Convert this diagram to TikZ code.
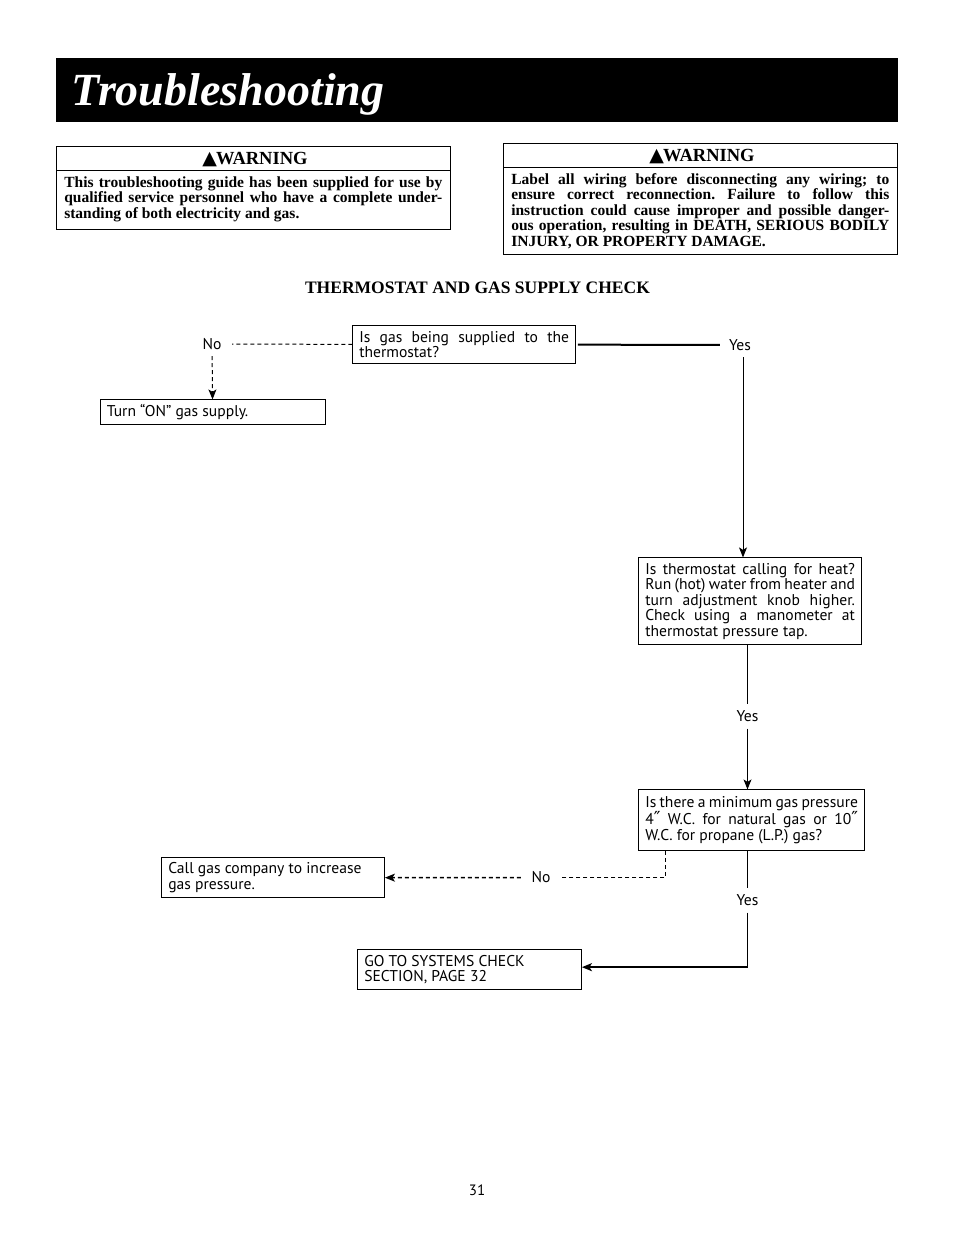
\documentclass[tikz,border=0pt]{standalone}
\usepackage{fontspec}
\setmainfont{PT Sans}
\newfontfamily\boldfont{Liberation Serif}
\newfontfamily\symfont{DejaVu Sans}
\usetikzlibrary{arrows.meta}
\newcommand{\warnhead}{{\symfont\fontsize{19}{19}\selectfont ▲}\kern-1pt WARNING}
\newcommand{\inch}{{\symfont\fontsize{18}{12}\selectfont ″}}
\frenchspacing
\tikzset{
	flowbox/.style={draw,line width=0.8pt,align=justify,inner xsep=6.5pt,inner ysep=0pt,font=\fontsize{15.6}{15.5}\selectfont},
	warnbox/.style={draw,line width=1pt,minimum width=393.7pt,inner sep=0pt},
	warnbody/.style={align=justify,text width=378pt,inner sep=0pt,font=\boldfont\bfseries\fontsize{15.5}{15.5}\selectfont},
	flowlabel/.style={inner sep=0pt,minimum width=40pt,minimum height=24pt,font=\fontsize{15.6}{15.5}\selectfont},
	yesline/.style={line width=1pt},
	noline/.style={line width=1pt,dash pattern=on 4pt off 3pt}
}
\begin{document}
\begin{tikzpicture}[x=1pt,y=-1pt,>={Stealth[length=10pt,width=8pt,inset=2.5pt]}]
	\useasboundingbox (0,0) rectangle (954,1235);
	\node[fill=black,minimum width=842pt,minimum height=64pt,inner sep=0pt] (banner) at (477,90) {};
	\node[anchor=west,text=white,inner sep=0pt,font=\boldfont\bfseries\itshape\fontsize{46}{46}\selectfont] (title) at (71.5,94) {Troubleshooting};
	% warnings
	\node[warnbox,minimum height=82.7pt] (warnA) at (253.65,188.15) {};
	\draw[line width=1pt] (56.8,170.8) -- (450.5,170.8);
	\node[inner sep=0pt,font=\boldfont\bfseries\fontsize{18.5}{19}\selectfont] (warnAhead) at (255,160) {\warnhead};
	\node[warnbody] (warnAtext) at (253.3,199) {This troubleshooting guide has been supplied for use by\linebreak qualified service personnel who have a complete under-\linebreak standing of both electricity and gas.};
	\node[warnbox,minimum height=110.7pt] (warnB) at (700.65,199.15) {};
	\draw[line width=1pt] (503.8,167.8) -- (897.5,167.8);
	\node[inner sep=0pt,font=\boldfont\bfseries\fontsize{18.5}{19}\selectfont] (warnBhead) at (702,157) {\warnhead};
	\node[warnbody] (warnBtext) at (700.3,211) {Label all wiring before disconnecting any wiring; to\linebreak ensure correct reconnection. Failure to follow this\linebreak instruction could cause improper and possible danger-\linebreak ous operation, resulting in DEATH, SERIOUS BODILY\linebreak INJURY, OR PROPERTY DAMAGE.};
	\node[inner sep=0pt,font=\boldfont\bfseries\fontsize{17.5}{18}\selectfont] (head) at (477.5,287.5) {THERMOSTAT AND GAS SUPPLY CHECK};
	% boxes
	\node[flowbox,text width=209.7pt,minimum height=37.7pt] (gas) at (464.15,344.65) {Is gas being supplied to the\linebreak thermostat?};
	\node[flowbox,text width=211.7pt,minimum height=24.7pt] (on) at (212.65,412.15) {Turn “ON” gas supply.};
	\node[flowbox,text width=209.7pt,minimum height=86.7pt] (heat) at (750.15,601.15) {Is thermostat calling for heat?\linebreak Run (hot) water from heater and\linebreak turn adjustment knob higher.\linebreak Check using a manometer at\linebreak thermostat pressure tap.};
	\node[flowbox,text width=212.7pt,minimum height=60.7pt] (press) at (751.65,820.15) {Is there a minimum gas pressure\linebreak 4\inch{} W.C. for natural gas or 10\inch\linebreak W.C. for propane (L.P.) gas?};
	\node[flowbox,text width=209.7pt,minimum height=39.7pt] (call) at (273.15,877.65) {Call gas company to increase\\gas pressure.};
	\node[flowbox,text width=210.7pt,minimum height=39.7pt] (sys) at (469.65,969.65) {GO TO SYSTEMS CHECK\\SECTION, PAGE 32};
	% labels
	\node[flowlabel] (noA) at (212,344) {No};
	\node[flowlabel] (yesA) at (740,345) {Yes};
	\node[flowlabel] (yesB) at (747.5,716.5) {Yes};
	\node[flowlabel] (noB) at (541,877.5) {No};
	\node[flowlabel] (yesC) at (747.5,900.5) {Yes};
	% connectors
	\draw[noline] (gas) to (noA);
	\draw[noline,->] (noA) to (on);
	\draw[line width=2pt] ([xshift=2pt]gas.east) to (yesA);
	\draw[yesline,->] ([xshift=3pt]yesA.south) to ([xshift=3pt]yesA.south |- heat.north);
	\draw[yesline] (yesB.north |- heat.south) to (yesB.north);
	\draw[yesline,->] (yesB.south) to (yesB.south |- press.north);
	\draw[noline] ([xshift=-86pt]press.south) |- (noB.east);
	\draw[line width=1.5pt,dash pattern=on 4pt off 3pt,->] (noB.west) to (call.east);
	\draw[yesline] (yesC.north |- press.south) to (yesC.north);
	\draw[yesline] (yesC.south) to ([yshift=2.5pt]yesC.south |- sys.east);
	\draw[line width=2.2pt,->] ([yshift=2.5pt]yesC.south |- sys.east) to ([yshift=2.5pt]sys.east);
	\node[inner sep=0pt,font=\fontsize{15}{15}\selectfont] (page) at (477,1190) {31};
\end{tikzpicture}
\end{document}
